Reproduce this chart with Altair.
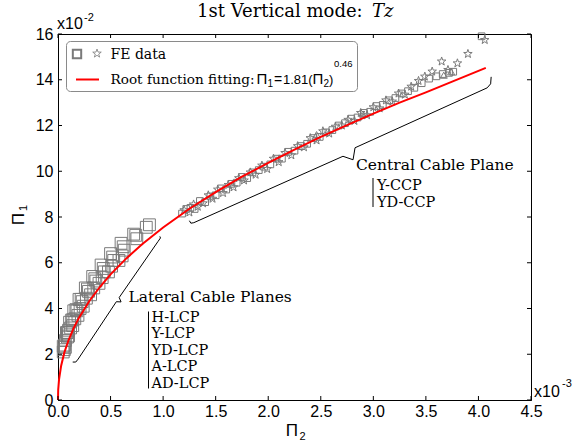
import altair as alt
import pandas as pd

# ---------------- data (Pi2 in units of 1e-3, Pi1 in units of 1e-2) ----------------
# Lateral cable planes (open squares)
lcp_a_x = [0.05, 0.08, 0.11, 0.15, 0.20, 0.26, 0.33, 0.41, 0.50, 0.60, 0.72, 0.87]
lcp_a_y = [2.35, 2.95, 3.40, 3.90, 4.40, 4.90, 5.40, 5.90, 6.40, 6.85, 7.25, 7.66]
lcp_b_x = [0.06, 0.09, 0.13, 0.17, 0.22, 0.28, 0.35, 0.43, 0.52, 0.62, 0.74, 0.84]
lcp_b_y = [2.40, 2.95, 3.50, 3.95, 4.40, 4.85, 5.30, 5.75, 6.25, 6.70, 7.20, 7.55]
lcp_c_x = [0.05, 0.07, 0.10, 0.14, 0.18, 0.23, 0.29, 0.36, 0.44, 0.53, 0.63, 0.75]
lcp_c_y = [2.10, 2.60, 3.05, 3.50, 3.90, 4.30, 4.75, 5.20, 5.60, 6.10, 6.55, 7.05]
lcp_d_x = [0.06, 0.09, 0.12, 0.16, 0.21, 0.27, 0.34, 0.42, 0.51, 0.61]
lcp_d_y = [2.20, 2.75, 3.15, 3.55, 4.00, 4.45, 4.90, 5.35, 5.85, 6.30]
lcp_e_x = [0.07, 0.10, 0.14, 0.19, 0.24, 0.31, 0.39, 0.48, 0.58]
lcp_e_y = [2.30, 2.80, 3.25, 3.70, 4.10, 4.60, 5.10, 5.60, 6.10]

# Central cable plane: stars
ccp_star_x = [1.20, 1.25, 1.29, 1.33, 1.38, 1.43, 1.47, 1.52, 1.57, 1.62, 1.67, 1.72,
              1.77, 1.83, 1.88, 1.94, 1.99, 2.05, 2.10, 2.16, 2.22, 2.28, 2.34, 2.40,
              2.46, 2.52, 2.58, 2.64, 2.70, 2.76, 2.82, 2.88, 2.94, 3.00, 3.06, 3.12,
              3.18, 3.24, 3.30, 3.36, 3.43, 3.49, 3.56, 3.65, 3.71, 3.80, 3.90, 4.06]
ccp_star_y = [8.30, 8.20, 8.55, 8.45, 8.60, 8.95, 8.80, 9.20, 9.05, 9.40, 9.30, 9.70,
              9.60, 9.95, 9.85, 10.25, 10.10, 10.55, 10.40, 10.80, 10.70, 11.10, 11.05, 11.45,
              11.35, 11.75, 11.65, 11.95, 12.00, 12.25, 12.20, 12.55, 12.45, 12.80, 12.75, 13.10,
              13.05, 13.40, 13.35, 13.70, 13.95, 14.14, 14.36, 14.80, 14.43, 14.72, 15.13, 15.74]
# Central cable plane: small squares
ccp_sq_x = [1.18, 1.22, 1.26, 1.30, 1.35, 1.40, 1.45, 1.50, 1.55, 1.60, 1.65, 1.70,
            1.75, 1.80, 1.85, 1.91, 1.96, 2.02, 2.08, 2.13, 2.19, 2.25, 2.31, 2.37,
            2.43, 2.49, 2.55, 2.61, 2.67, 2.73, 2.79, 2.85, 2.91, 2.97, 3.03, 3.09,
            3.15, 3.21, 3.27, 3.33, 3.39, 3.46, 3.53, 3.60, 3.66, 3.72, 3.76, 4.03]
ccp_sq_y = [8.15, 8.35, 8.40, 8.35, 8.70, 8.65, 8.90, 8.95, 9.25, 9.20, 9.45, 9.50,
            9.75, 9.70, 9.95, 10.05, 10.20, 10.30, 10.55, 10.55, 10.85, 10.90, 11.10, 11.20,
            11.45, 11.50, 11.70, 11.80, 12.00, 12.10, 12.30, 12.35, 12.55, 12.60, 12.85, 12.90,
            13.10, 13.20, 13.40, 13.50, 13.65, 13.85, 14.05, 14.15, 14.25, 14.30, 14.35, 15.90]
ccp_tri_x = [2.46, 2.90, 3.67, 3.74]
ccp_tri_y = [11.60, 12.50, 14.20, 14.35]

# Root function fit  Pi1 = 1.81 (Pi2)^0.46
fit_x = [0.0, 0.002, 0.01, 0.03, 0.06, 0.10, 0.15, 0.20, 0.30, 0.40, 0.50, 0.65, 0.80,
         1.00, 1.25, 1.50, 1.75, 2.00, 2.25, 2.50, 2.75, 3.00, 3.25, 3.50, 3.75, 4.07]
fit_y = [0.0, 0.45, 0.90, 1.50, 2.07, 2.61, 3.15, 3.60, 4.34, 4.95, 5.49, 6.19, 6.81,
         7.54, 8.36, 9.09, 9.76, 10.37, 10.95, 11.50, 12.02, 12.52, 13.00, 13.45, 13.92, 14.52]

# braces (annotation curves)
brace_lcp_x = [0.140, 0.169, 0.192, 0.555, 0.600, 0.582, 0.952, 0.975, 0.969]
brace_lcp_y = [1.659, 1.659, 1.790, 4.297, 4.288, 4.480, 6.934, 7.083, 7.153]
brace_ccp_x = [1.250, 1.264, 1.292, 2.711, 2.807, 2.826, 4.083, 4.116, 4.121]
brace_ccp_y = [7.838, 7.729, 7.751, 10.655, 10.502, 11.026, 13.646, 13.821, 14.127]

x_ticks = [0.0, 0.5, 1.0, 1.5, 2.0, 2.5, 3.0, 3.5, 4.0, 4.5]
y_ticks = [0, 2, 4, 6, 8, 10, 12, 14, 16]

lcp_names = ["H-LCP", "Y-LCP", "YD-LCP", "A-LCP", "AD-LCP"]
ccp_names = ["Y-CCP", "YD-CCP"]

# ---------------- layout ----------------
W, H = 473, 366
PL, PT = 58, 34
GRAY = "#7a7a7a"
SERIF = "DejaVu Serif"
SANS = "Liberation Sans"
STAR = ("M0,-1L0.235,-0.324L0.951,-0.309L0.38,0.124L0.588,0.809L0,0.4"
        "L-0.588,0.809L-0.38,0.124L-0.951,-0.309L-0.235,-0.324Z")

xs = alt.Scale(domain=[0, 4.5], nice=False, zero=False)
ys = alt.Scale(domain=[0, 16], nice=False, zero=False)
AX = alt.Axis(values=x_ticks, format=".1f", ticks=False, tickSize=0, grid=False,
              labelFont=SANS, labelFontSize=16, labelColor="black", labelPadding=3,
              domainColor="black", labelFlush=False, labelOverlap=False)
AY = alt.Axis(values=y_ticks, format="d", ticks=False, tickSize=0, grid=False,
              labelFont=SANS, labelFontSize=16, labelColor="black", labelPadding=5,
              domainColor="black", labelFlush=False, labelOverlap=False)


def X():
    return alt.X("x:Q", scale=xs, axis=AX, title=None)


def Y():
    return alt.Y("y:Q", scale=ys, axis=AY, title=None)


def pts(xv, yv, name):
    return pd.DataFrame({"x": xv, "y": yv, "s": name})


lcp = pd.concat([pts(lcp_a_x, lcp_a_y, "a"), pts(lcp_b_x, lcp_b_y, "b"),
                 pts(lcp_c_x, lcp_c_y, "c"), pts(lcp_d_x, lcp_d_y, "d"),
                 pts(lcp_e_x, lcp_e_y, "e")])
ccp_sq = pts(ccp_sq_x, ccp_sq_y, "sq")
ccp_st = pts(ccp_star_x, ccp_star_y, "st")
ccp_tr = pts(ccp_tri_x, ccp_tri_y, "tr")
fit = pd.DataFrame({"x": fit_x, "y": fit_y, "i": list(range(len(fit_x)))})
braces = pd.concat([
    pd.DataFrame({"x": brace_lcp_x, "y": brace_lcp_y, "g": "l", "i": list(range(len(brace_lcp_x)))}),
    pd.DataFrame({"x": brace_ccp_x, "y": brace_ccp_y, "g": "c", "i": list(range(len(brace_ccp_x)))}),
])


def scatter(df, shape, size):
    return alt.Chart(df).mark_point(shape=shape, size=size, filled=False, color=GRAY,
                                    strokeWidth=1, opacity=1).encode(x=X(), y=Y())


layers = []
layers.append(scatter(lcp, "square", 140))
layers.append(scatter(ccp_sq, "square", 45))
layers.append(scatter(ccp_tr, "triangle-up", 50))
layers.append(scatter(ccp_st, STAR, 80))

# fit line
layers.append(alt.Chart(fit).mark_line(color="#ff0000", strokeWidth=2).encode(
    x=X(), y=Y(), order="i:Q"))

# braces
layers.append(alt.Chart(braces).mark_line(color="black", strokeWidth=1).encode(
    x=X(), y=Y(), detail="g:N", order="i:Q"))

# inward ticks
xt = pd.DataFrame({"x": x_ticks})
yt = pd.DataFrame({"y": y_ticks})
layers.append(alt.Chart(xt).mark_rule(color="black").encode(x=X(), y=alt.value(H), y2=alt.value(H - 4)))
layers.append(alt.Chart(xt).mark_rule(color="black").encode(x=X(), y=alt.value(0), y2=alt.value(4)))
layers.append(alt.Chart(yt).mark_rule(color="black").encode(y=Y(), x=alt.value(0), x2=alt.value(4)))
layers.append(alt.Chart(yt).mark_rule(color="black").encode(y=Y(), x=alt.value(W - 4), x2=alt.value(W)))

one = pd.DataFrame({"k": [0]})


def txt(s, x, y, size, font=SERIF, style="normal", align="left", angle=None, color="black"):
    kw = dict(align=align, baseline="alphabetic", font=font, fontSize=size,
              fontStyle=style, color=color)
    if angle:
        kw["angle"] = angle
    return alt.Chart(pd.DataFrame({"t": [s]})).mark_text(**kw).encode(
        text="t:N", x=alt.value(x - PL), y=alt.value(y - PT))


def vbar(x, y1, y2):
    return alt.Chart(one).mark_rule(color="black", strokeWidth=1).encode(
        x=alt.value(x - PL), y=alt.value(y1 - PT), y2=alt.value(y2 - PT))


# legend box
layers.append(alt.Chart(one).mark_rect(fill="white", stroke="#8a8a8a", strokeWidth=1,
                                       cornerRadius=4).encode(
    x=alt.value(66.5 - PL), x2=alt.value(357.5 - PL),
    y=alt.value(41.5 - PT), y2=alt.value(91.5 - PT)))
layers.append(alt.Chart(one).mark_point(shape="square", size=70, filled=False, color=GRAY,
                                        opacity=1).encode(x=alt.value(77 - PL), y=alt.value(54 - PT)))
layers.append(alt.Chart(one).mark_point(shape=STAR, size=80, filled=False, color=GRAY,
                                        strokeWidth=0.8, opacity=1).encode(
    x=alt.value(97 - PL), y=alt.value(53.5 - PT)))
layers.append(alt.Chart(one).mark_rule(color="#ff0000", strokeWidth=2).encode(
    x=alt.value(76 - PL), x2=alt.value(99 - PL), y=alt.value(79.5 - PT)))
layers.append(txt("FE data", 110.5, 59, 14))
layers.append(txt("Root function fitting:", 110.5, 83.5, 13.6))
layers.append(txt("Π", 256.5, 83.5, 15, font=SANS))
layers.append(txt("1", 267.5, 86.5, 10, font=SANS))
layers.append(txt("=", 274, 83.5, 14, font=SANS))
layers.append(txt("1.81(", 283, 83.5, 13, font=SANS))
layers.append(txt("Π", 312.5, 83.5, 15, font=SANS))
layers.append(txt("2", 323.5, 86.5, 10, font=SANS))
layers.append(txt(")", 329, 83.5, 13, font=SANS))
layers.append(txt("0.46", 334, 66.5, 9.5, font=SANS))

# title
layers.append(txt("1st Vertical mode:", 197, 17, 18))
layers.append(txt("Tz", 372, 17, 18, style="italic"))

# exponents
layers.append(txt("x10", 57, 28.5, 16, font=SANS))
layers.append(txt("-2", 84, 20.5, 11, font=SANS))
layers.append(txt("x10", 534, 397, 16, font=SANS))
layers.append(txt("-3", 562, 387, 11, font=SANS))

# axis titles
layers.append(txt("Π", 292, 436, 17, font=SANS, align="center"))
layers.append(txt("2", 299.5, 440, 11, font=SANS))
layers.append(txt("Π", 24, 219, 17, font=SANS, align="center", angle=270))
layers.append(txt("1", 27, 208, 11, font=SANS, align="center", angle=270))

# annotations
layers.append(txt("Lateral Cable Planes", 128.5, 302, 15.5))
layers.append(vbar(148.5, 311.5, 388.5))
for i, n in enumerate(lcp_names):
    layers.append(txt(n, 151.5, 321.5 + 16.6 * i, 14.5))
layers.append(txt("Central Cable Plane", 356, 170, 15.5))
layers.append(vbar(373, 178, 207))
for i, n in enumerate(ccp_names):
    layers.append(txt(n, 377, 190 + 16.5 * i, 14.5))

chart = alt.layer(*layers).properties(
    width=W, height=H,
    padding={"left": PL, "top": PT, "right": 581 - PL - W, "bottom": 442 - PT - H},
    autosize=alt.AutoSizeParams(type="none"),
    background="white",
).configure_view(stroke="black", strokeWidth=1)

chart.save("out.html", embed_options={"renderer": "svg", "actions": False})
